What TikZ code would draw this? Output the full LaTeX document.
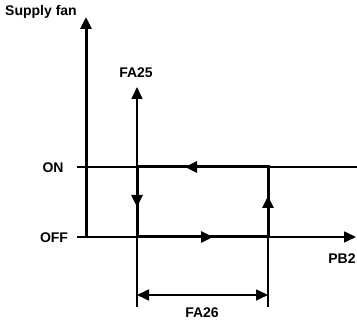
\documentclass[tikz,border=0pt]{standalone}
\usepackage{fontspec}
\setmainfont{Liberation Sans}
\usetikzlibrary{arrows.meta}
\begin{document}
\begin{tikzpicture}[x=1pt,y=1pt,
  thin line/.style={line width=1.6pt},
  thick line/.style={line width=3pt},
  tip/.style={-{Triangle[length=12pt,width=11pt]}},
  lbl/.style={font=\bfseries\fontsize{14}{16}\selectfont, inner sep=0pt}]
\useasboundingbox (0,0) rectangle (357,323);
% coordinates
\coordinate (O) at (86,86);
\coordinate (Ytop) at (86,306);
\coordinate (onL) at (77,156);
\coordinate (onR) at (357,156);
\coordinate (offL) at (77,86);
\coordinate (offR) at (356,86);
\coordinate (aBot) at (137,16);
\coordinate (aTop) at (137,236);
\coordinate (aOn) at (137,156);
\coordinate (aOff) at (137,86);
\coordinate (bBot) at (268,16);
\coordinate (bOn) at (268,156);
\coordinate (bOff) at (268,86);
\coordinate (aDn) at (137,116);
\coordinate (bUp) at (268,127);
\coordinate (onArr) at (185,156);
\coordinate (offArr) at (213,86);
\coordinate (dL) at (137,28);
\coordinate (dR) at (268,28);
% labels
\node[lbl] (sf) at (41,311) {Supply fan};
\node[lbl] (fa25) at (136,250) {FA25};
\node[lbl] (on) at (53,155) {ON};
\node[lbl] (off) at (54,85) {OFF};
\node[lbl] (pb2) at (342,64) {PB2};
\node[lbl] (fa26) at (202,10) {FA26};
% thin lines
\draw[thin line] (onL) -- (onR);
\draw[thin line, tip] (offL) -- (offR);
\draw[thin line, tip] (aBot) -- (aTop);
\draw[thin line] (bBot) -- (bOn);
% main axis
\draw[thick line, tip] (O) -- (Ytop);
% hysteresis loop
\draw[thick line, line join=miter] (aOff) -- (aOn) -- (bOn) -- (bOff) -- cycle;
\draw[thick line, tip] (aOn) -- (aDn);
\draw[thick line, tip] (bOff) -- (bUp);
\draw[thick line, tip] (bOn) -- (onArr);
\draw[thick line, tip] (aOff) -- (offArr);
% dimension
\draw[thin line, {Triangle[length=12pt,width=11pt]}-{Triangle[length=12pt,width=11pt]}] (dL) -- (dR);
\end{tikzpicture}
\end{document}
